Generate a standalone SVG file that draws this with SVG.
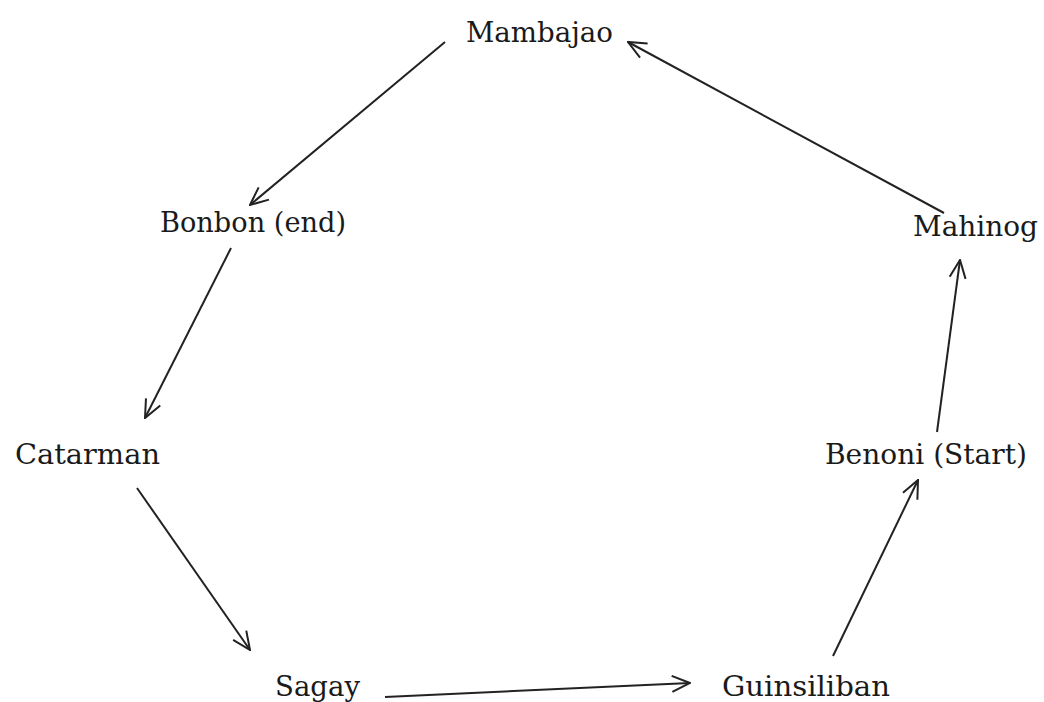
<svg xmlns="http://www.w3.org/2000/svg" width="1044" height="702" viewBox="0 0 1044 702">
<style>
  .lbl { font-family: "DejaVu Serif", "Liberation Serif", serif; font-size: 28px; fill: #1a1a1a; }
  .edge { stroke: #222; stroke-width: 2; fill: none; marker-end: url(#arr); }
</style>
<defs>
  <marker id="arr" viewBox="0 0 20 20" refX="19" refY="10" markerWidth="20" markerHeight="20" markerUnits="userSpaceOnUse" orient="auto">
    <path d="M1,2 L19,10 L1,18" fill="none" stroke="#222" stroke-width="2"/>
  </marker>
</defs>
<rect width="1044" height="702" fill="#fff"/>
<g id="connectors">
  <line class="edge" x1="445" y1="42" x2="250" y2="205"/>
  <line class="edge" x1="231" y1="248" x2="145" y2="418"/>
  <line class="edge" x1="137" y1="488" x2="250" y2="650"/>
  <line class="edge" x1="385" y1="697" x2="690" y2="683"/>
  <line class="edge" x1="833" y1="656" x2="918" y2="480"/>
  <line class="edge" x1="937" y1="432" x2="960" y2="260"/>
  <line class="edge" x1="944" y1="213" x2="628" y2="42"/>
</g>
<g id="mambajao"><text class="lbl" x="466" y="42" textLength="147" lengthAdjust="spacingAndGlyphs">Mambajao</text></g>
<g id="bonbon"><text class="lbl" x="160" y="232" textLength="186" lengthAdjust="spacingAndGlyphs">Bonbon (end)</text></g>
<g id="catarman"><text class="lbl" x="15" y="464" textLength="145" lengthAdjust="spacingAndGlyphs">Catarman</text></g>
<g id="sagay"><text class="lbl" x="275" y="696" textLength="85" lengthAdjust="spacingAndGlyphs">Sagay</text></g>
<g id="guinsiliban"><text class="lbl" x="722" y="696" textLength="168" lengthAdjust="spacingAndGlyphs">Guinsiliban</text></g>
<g id="benoni"><text class="lbl" x="825" y="464" textLength="202" lengthAdjust="spacingAndGlyphs">Benoni (Start)</text></g>
<g id="mahinog"><text class="lbl" x="913" y="236" textLength="125" lengthAdjust="spacingAndGlyphs">Mahinog</text></g>
</svg>
